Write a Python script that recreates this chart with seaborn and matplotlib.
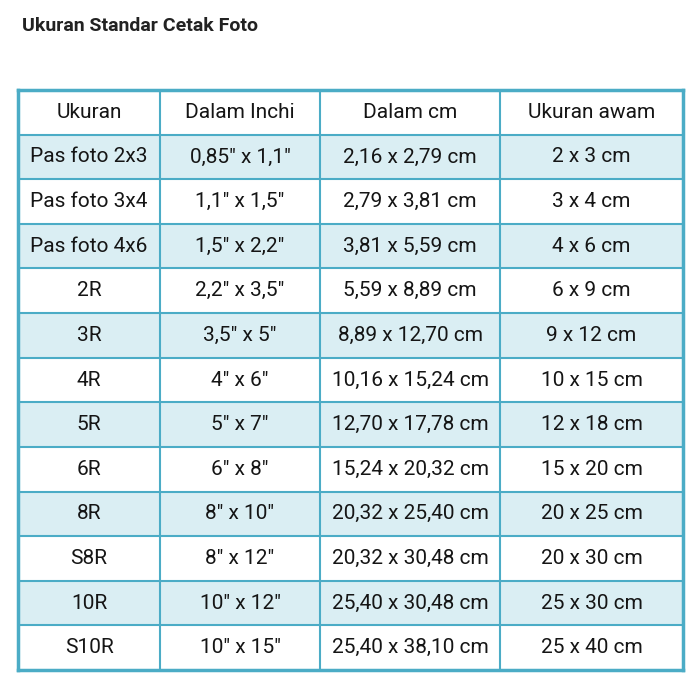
import matplotlib
matplotlib.use("Agg")
import matplotlib.pyplot as plt
import seaborn as sns
import numpy as np
from matplotlib.colors import ListedColormap
from matplotlib import font_manager

headers = ["Ukuran", "Dalam Inchi", "Dalam cm", "Ukuran awam"]
ukuran = ["Pas foto 2x3", "Pas foto 3x4", "Pas foto 4x6", "2R", "3R", "4R", "5R", "6R", "8R", "S8R", "10R", "S10R"]
inchi = ['0,85" x 1,1"', '1,1" x 1,5"', '1,5" x 2,2"', '2,2" x 3,5"', '3,5" x 5"', '4" x 6"', '5" x 7"',
         '6" x 8"', '8" x 10"', '8" x 12"', '10" x 12"', '10" x 15"']
cm = ["2,16 x 2,79 cm", "2,79 x 3,81 cm", "3,81 x 5,59 cm", "5,59 x 8,89 cm", "8,89 x 12,70 cm",
      "10,16 x 15,24 cm", "12,70 x 17,78 cm", "15,24 x 20,32 cm", "20,32 x 25,40 cm",
      "20,32 x 30,48 cm", "25,40 x 30,48 cm", "25,40 x 38,10 cm"]
awam = ["2 x 3 cm", "3 x 4 cm", "4 x 6 cm", "6 x 9 cm", "9 x 12 cm", "10 x 15 cm", "12 x 18 cm",
        "15 x 20 cm", "20 x 25 cm", "20 x 30 cm", "25 x 30 cm", "25 x 40 cm"]
col_widths = [142, 160, 180, 183]

names = {f.name for f in font_manager.fontManager.ttflist}
fam = "Liberation Sans Narrow" if "Liberation Sans Narrow" in names else "Roboto"

labels = [headers] + [list(r) for r in zip(ukuran, inchi, cm, awam)]
n = len(ukuran)
total_w = sum(col_widths)
fill = np.zeros((n + 1, total_w))
for i in range(1, n + 1):
    fill[i, :] = 1 if i % 2 == 1 else 0

fig = plt.figure(figsize=(7, 7), dpi=100)
ax = fig.add_axes([18/700, 1 - 670/700, 665/700, 580/700])
sns.heatmap(fill, ax=ax, cmap=ListedColormap(["#FFFFFF", "#DAEEF3"]), cbar=False,
            linewidths=0, vmin=0, vmax=1)
edges = np.cumsum([0] + col_widths)
for x in edges[1:-1]:
    ax.axvline(x, color="#4BACC6", lw=1.5)
for y in range(1, n + 1):
    ax.axhline(y, color="#4BACC6", lw=1.5)
for r, row in enumerate(labels):
    for c, txt in enumerate(row):
        ax.text((edges[c] + edges[c + 1]) / 2, r + 0.5, txt, ha="center", va="center",
                fontsize=15, color="#151515", family=fam)
ax.set_xticks([]); ax.set_yticks([])
for s in ax.spines.values():
    s.set_visible(True); s.set_color("#4BACC6"); s.set_linewidth(2.5)
fig.text(22/700, 1 - 26/700, "Ukuran Standar Cetak Foto", fontsize=14, family=fam,
         fontweight="bold", color="#222222", va="center", ha="left")
fig.savefig("out.png", dpi=100, facecolor="white")
